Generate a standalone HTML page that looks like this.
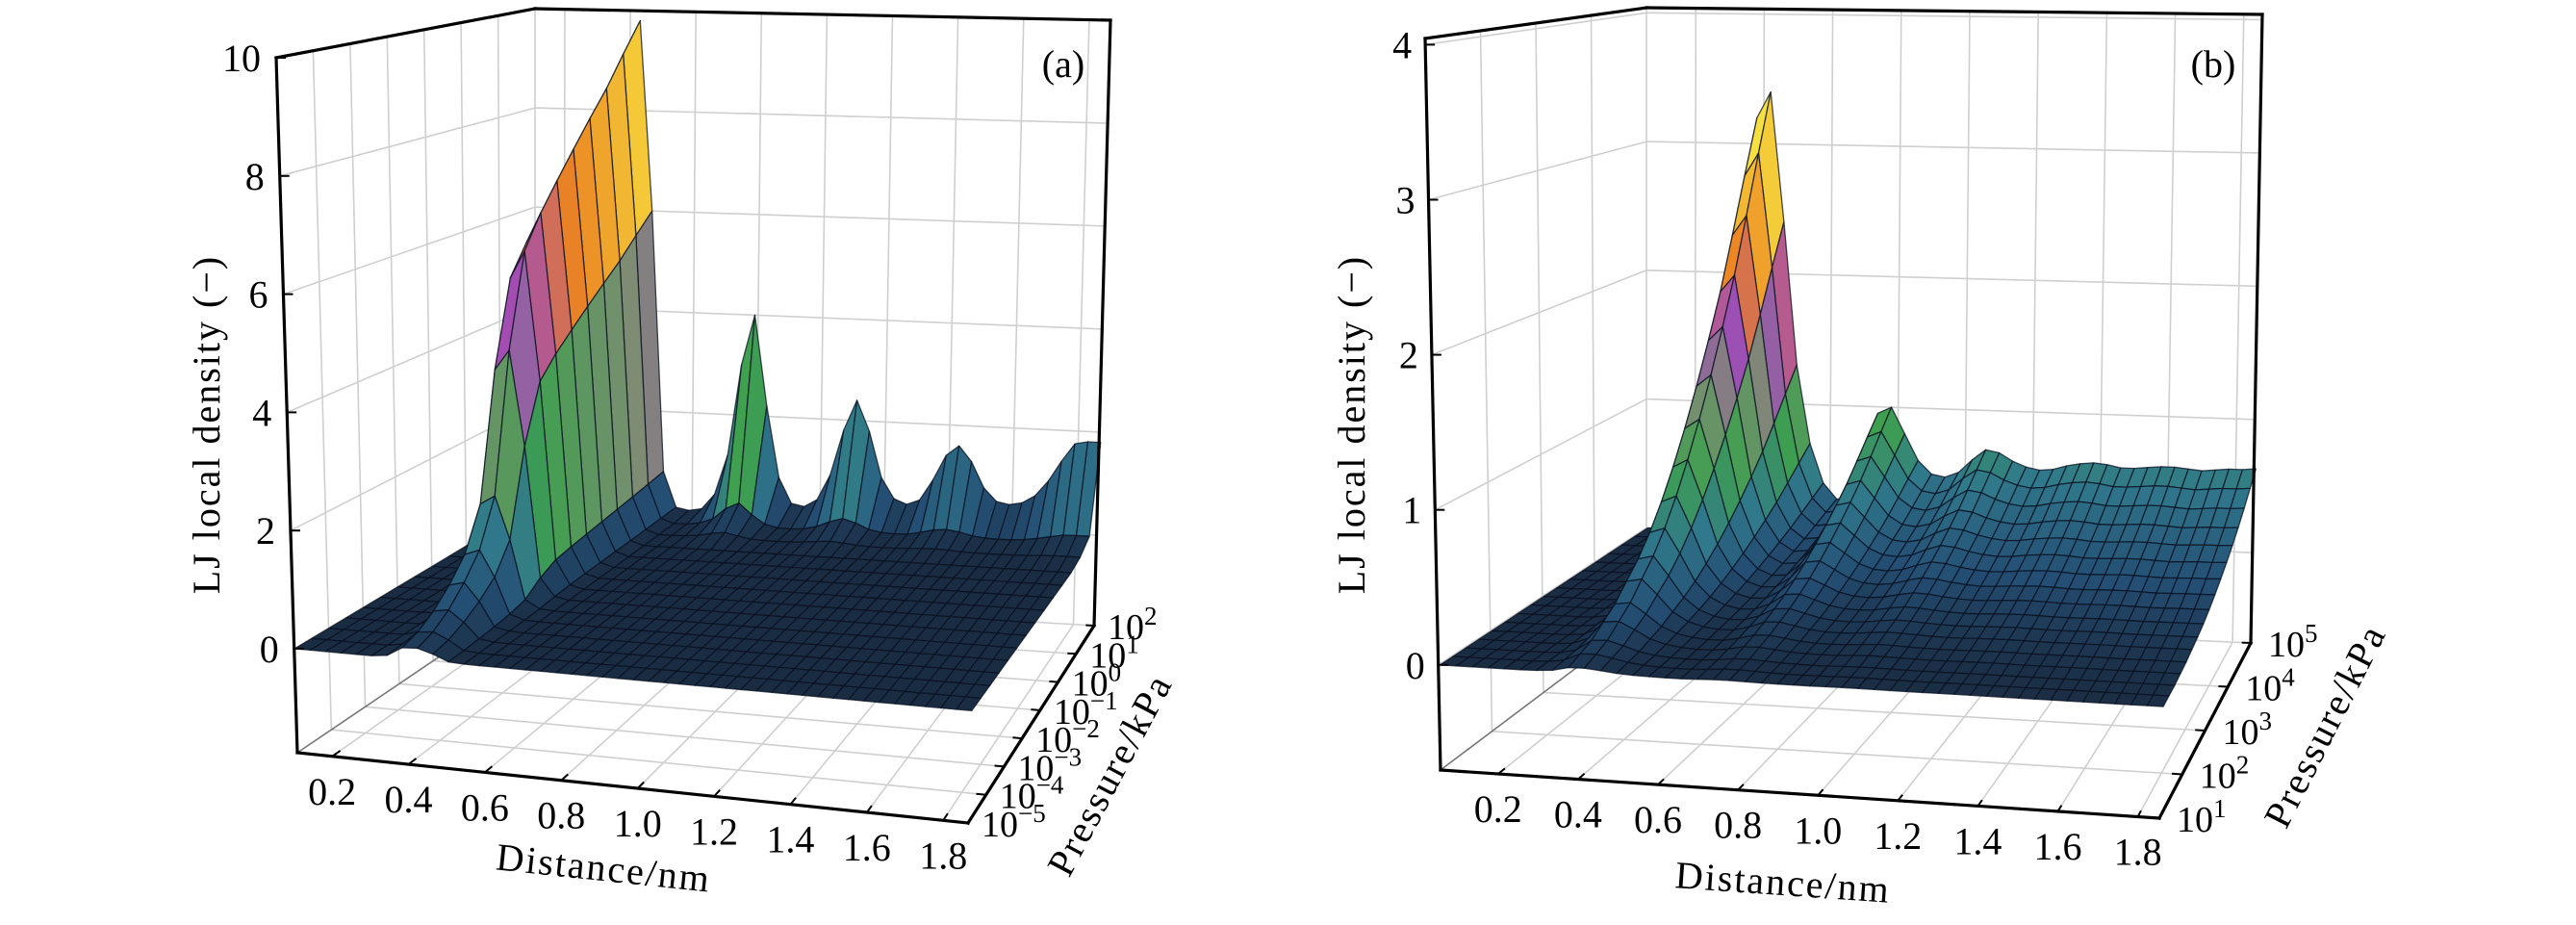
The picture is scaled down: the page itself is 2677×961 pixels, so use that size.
<!DOCTYPE html>
<html><head><meta charset="utf-8">
<style>
html,body{margin:0;padding:0;background:#fff;}
svg{display:block;}
text{font-family:"Liberation Serif","DejaVu Serif",serif;}
</style></head>
<body>
<svg id="chart" width="2677" height="961" viewBox="0 0 2677 961" xmlns="http://www.w3.org/2000/svg">
<rect x="0" y="0" width="2677" height="961" fill="#fff"/>
<g id="panelA"></g>
<g id="panelB"></g>
</svg>
<script>
// ---------- Panel (a) data ----------
const distA = [0.11,0.15,0.19,0.23,0.27,0.31,0.35,0.39,0.43,0.47,0.51,0.55,0.59,0.63,0.67,0.71,0.75,0.79,0.83,0.87,0.91,0.95,0.99,1.03,1.07,1.11,1.15,1.19,1.23,1.27,1.31,1.35,1.39,1.43,1.47,1.51,1.55,1.59,1.63,1.67,1.71,1.75,1.79,1.83,1.87];
const firstShellA = [0,0,0,0,0,0.1,1.5,9.0,9.8,6.0,0.8,0.1,0,0,0,0,0,0,0,0,0,0,0,0,0,0,0,0,0,0,0,0,0,0,0,0,0,0,0,0,0,0,0,0,0];
const outerShellsA = [0,0,0,0,0,0,0,0,0,0,0,0,0.05,0.1,0.4,1.2,3.0,4.0,2.2,0.8,0.3,0.25,0.4,0.9,1.8,2.4,1.8,0.9,0.5,0.4,0.5,0.9,1.4,1.6,1.3,0.8,0.55,0.5,0.55,0.7,1.0,1.4,1.75,1.8,1.8];
const logPA = [-5,-4.5,-4,-3.5,-3,-2.5,-2,-1.5,-1,-0.5,0,0.5,1,1.5,2];
const firstScaleA = [0.02,0.03,0.05,0.08,0.12,0.2,0.45,0.62,0.68,0.73,0.78,0.83,0.88,0.94,1.0];
const outerScaleA = [0,0,0,0,0,0,0,0,0,0,0,0,0.03,0.12,1.0];
const zTicksA = [0,2,4,6,8,10];
const xTicksA = [0.2,0.4,0.6,0.8,1.0,1.2,1.4,1.6,1.8];
const xTickLabelsA = ["0.2","0.4","0.6","0.8","1.0","1.2","1.4","1.6","1.8"];
const pTicksA = [-5,-4,-3,-2,-1,0,1,2];
const pTickLabelsA = ["\u22125","\u22124","\u22123","\u22122","\u22121","0","1","2"];

// ---------- Panel (b) data ----------
const distB = [0.06,0.10,0.14,0.18,0.22,0.26,0.30,0.34,0.38,0.42,0.46,0.50,0.54,0.58,0.62,0.66,0.70,0.74,0.78,0.82,0.86,0.90,0.94,0.98,1.02,1.06,1.10,1.14,1.18,1.22,1.26,1.30,1.34,1.38,1.42,1.46,1.50,1.54,1.58,1.62,1.66,1.70,1.74,1.78,1.82,1.86];
const profileB = [0,0,0,0,0,0.02,0.15,0.9,3.2,3.4,2.4,1.3,0.7,0.4,0.28,0.3,0.55,0.95,1.0,0.8,0.6,0.5,0.48,0.52,0.62,0.7,0.68,0.62,0.58,0.56,0.57,0.6,0.62,0.63,0.62,0.6,0.6,0.61,0.62,0.62,0.61,0.6,0.61,0.62,0.62,0.63];
const logPB = [1,1.25,1.5,1.75,2,2.25,2.5,2.75,3,3.25,3.5,3.75,4,4.25,4.5,4.75,5];
const scaleB = [0.01,0.02,0.03,0.05,0.07,0.1,0.13,0.17,0.22,0.28,0.35,0.43,0.52,0.62,0.74,0.87,1.0];
const zTicksB = [0,1,2,3,4];
const xTicksB = [0.2,0.4,0.6,0.8,1.0,1.2,1.4,1.6,1.8];
const xTickLabelsB = ["0.2","0.4","0.6","0.8","1.0","1.2","1.4","1.6","1.8"];
const pTicksB = [1,2,3,4,5];
const pTickLabelsB = ["1","2","3","4","5"];

const NS = "http://www.w3.org/2000/svg";
const FONT = '"Liberation Serif", "DejaVu Serif", serif';
function mk(tag, attrs, parent){
  const e = document.createElementNS(NS, tag);
  for (const k in attrs) e.setAttribute(k, attrs[k]);
  parent.appendChild(e);
  return e;
}

const stops = [
  [0.00,[26,44,66]],[0.06,[36,78,115]],[0.16,[48,120,140]],[0.28,[62,160,78]],
  [0.42,[125,140,115]],[0.55,[160,75,185]],[0.68,[235,130,35]],[0.82,[242,185,50]],[1.00,[248,240,70]]
];
function cmap(t){
  t = Math.max(0, Math.min(1, t));
  for (let k=1;k<stops.length;k++){
    if (t <= stops[k][0]){
      const a = stops[k-1], b = stops[k];
      const f = (t-a[0])/(b[0]-a[0]);
      const c = a[1].map((v,i)=>Math.round(v+(b[1][i]-v)*f));
      return "rgb("+c.join(",")+")";
    }
  }
  return "rgb(248,240,70)";
}

function drawPanel(g, cfg, dist, logP, zfun, zTicks, xTicks, xTickLabels, pTicks, pTickLabels){
  const C = cfg.corners;
  function bil(a,b,c,d,u,v){
    return [a[0]*(1-u)*(1-v)+b[0]*u*(1-v)+c[0]*u*v+d[0]*(1-u)*v,
            a[1]*(1-u)*(1-v)+b[1]*u*(1-v)+c[1]*u*v+d[1]*(1-u)*v];
  }
  function map(u,v,w){
    const lo = bil(C.FLb,C.FRb,C.BRb,C.BLb,u,v);
    const hi = bil(C.FLt,C.FRt,C.BRt,C.BLt,u,v);
    return [lo[0]*(1-w)+hi[0]*w, lo[1]*(1-w)+hi[1]*w];
  }
  const uOf = x => (x-cfg.x0)/(cfg.x1-cfg.x0);
  const vOf = p => (p-cfg.p0)/(cfg.p1-cfg.p0);
  const wOf = z => (z-cfg.zmin)/(cfg.zmax-cfg.zmin);
  const pt = q => q[0].toFixed(1)+","+q[1].toFixed(1);
  const line = (a,b,attrs,name) => {
    const el = mk("line",Object.assign({x1:a[0].toFixed(1),y1:a[1].toFixed(1),x2:b[0].toFixed(1),y2:b[1].toFixed(1)},attrs),g);
    
    
    return el;
  };
  const grid = {stroke:"#cfcfcf","stroke-width":"1.6"};
  xTicks.forEach(x=>{ line(map(uOf(x),0,0),map(uOf(x),1,0),grid,"floor-gridline-x"); });
  pTicks.forEach(p=>{ line(map(0,vOf(p),0),map(1,vOf(p),0),grid,"floor-gridline-pressure"); });
  xTicks.forEach(x=>{ line(map(uOf(x),1,0),map(uOf(x),1,1),grid,"back-wall-gridline-x"); });
  zTicks.forEach(z=>{ line(map(0,1,wOf(z)),map(1,1,wOf(z)),grid,"back-wall-gridline-z"); });
  pTicks.forEach(p=>{ line(map(0,vOf(p),0),map(0,vOf(p),1),grid,"left-wall-gridline-pressure"); });
  zTicks.forEach(z=>{ line(map(0,0,wOf(z)),map(0,1,wOf(z)),grid,"left-wall-gridline-z"); });
  line(map(0,0,0),map(0,1,0),{stroke:"#777","stroke-width":"1.6"},"floor-left-edge");

  const Z = logP.map((p,j)=>dist.map((x,i)=>zfun(i,j)));
  let zmaxData = 0; Z.forEach(r=>r.forEach(v=>{ if(v>zmaxData) zmaxData=v; }));
  const sg = mk("g",{},g);
  
  
  for (let j=logP.length-2;j>=0;j--){
    for (let i=0;i<dist.length-1;i++){
      const P = (ii,jj)=>map(uOf(dist[ii]),vOf(logP[jj]),wOf(Z[jj][ii]));
      const mx = Math.max(Z[j][i],Z[j][i+1],Z[j+1][i],Z[j+1][i+1]);
      const avg = (Z[j][i]+Z[j][i+1]+Z[j+1][i]+Z[j+1][i+1])/4;
      const poly = mk("polygon",{points:[P(i,j),P(i+1,j),P(i+1,j+1),P(i,j+1)].map(pt).join(" "),
        fill:cmap((0.6*avg+0.4*mx)/zmaxData),stroke:"#081020","stroke-width":"1.3","stroke-opacity":"0.75","stroke-linejoin":"round"},sg);
      
      
    }
  }

  const ax = {stroke:"#000","stroke-width":"3.2","stroke-linecap":"square"};
  line(map(0,0,0),map(0,0,1),ax,"z-axis-line");
  line(map(0,0,1),map(0,1,1),ax,"left-wall-top-edge");
  line(map(0,1,1),map(1,1,1),ax,"back-wall-top-edge");
  line(map(1,1,1),map(1,1,0),ax,"back-wall-right-edge");
  line(map(0,0,0),map(1,0,0),ax,"x-axis-line");
  line(map(1,0,0),map(1,1,0),ax,"pressure-axis-line");

  const tk = {stroke:"#000","stroke-width":"2"};
  zTicks.forEach((z,k)=>{
    const a = map(0,0,wOf(z));
    line(a,[a[0]+10,a[1]],tk,"z-tick");
    const t = mk("text",{x:(a[0]-cfg.zLabelDx).toFixed(1),y:(a[1]+14).toFixed(1),"text-anchor":"end","font-size":"40",fill:"#000","font-family":FONT},g);
    t.textContent = String(z);
    
    
  });
  xTicks.forEach((x,k)=>{
    const a = map(uOf(x),0,0);
    const b = map(uOf(x),0.035,0);
    line(a,b,tk,"x-tick");
    const t = mk("text",{x:a[0].toFixed(1),y:(a[1]+50).toFixed(1),"text-anchor":"middle","font-size":"40",fill:"#000","font-family":FONT},g);
    t.textContent = xTickLabels[k];
    
    
  });
  pTicks.forEach((p,k)=>{
    const a = map(1,vOf(p),0);
    const b = map(0.985,vOf(p),0);
    line(a,b,tk,"pressure-tick");
    const t = mk("text",{x:(a[0]+cfg.pLabelDx).toFixed(1),y:(a[1]+cfg.pLabelDy).toFixed(1),"text-anchor":"start","font-size":"38",fill:"#000","font-family":FONT},g);
    
    
    t.appendChild(document.createTextNode("10"));
    const s = mk("tspan",{dy:"-15","font-size":"27"},t);
    s.textContent = pTickLabels[k];
    
    
  });
  const yt = mk("text",{x:cfg.yTitle[0],y:cfg.yTitle[1],"text-anchor":"middle","font-size":"40",fill:"#000","letter-spacing":"2","font-family":FONT,transform:"rotate(-90 "+cfg.yTitle[0]+" "+cfg.yTitle[1]+")"},g);
  yt.textContent = "LJ local density (\u2212)";
  
  
  const xt = mk("text",{x:cfg.xTitle[0],y:cfg.xTitle[1],"text-anchor":"middle","font-size":"40",fill:"#000","letter-spacing":"2","font-family":FONT,transform:"rotate("+cfg.xTitle[2]+" "+cfg.xTitle[0]+" "+cfg.xTitle[1]+")"},g);
  xt.textContent = "Distance/nm";
  
  
  const pt2 = mk("text",{x:cfg.pTitle[0],y:cfg.pTitle[1],"text-anchor":"middle","font-size":"40",fill:"#000","letter-spacing":"2","font-family":FONT,transform:"rotate("+cfg.pTitle[2]+" "+cfg.pTitle[0]+" "+cfg.pTitle[1]+")"},g);
  pt2.textContent = "Pressure/kPa";
  
  
  const pl = mk("text",{x:cfg.tag[0],y:cfg.tag[1],"text-anchor":"middle","font-size":"40",fill:"#000","font-family":FONT},g);
  pl.textContent = cfg.tagText;
  
  
}

const cfgA = {
  corners:{FLb:[309,782],FRb:[1006,855],BRb:[1137,650],BLb:[556,615],FLt:[287,60],FRt:[1018,75],BRt:[1154,21],BLt:[556,9]},
  x0:0.109,x1:1.865,p0:-5,p1:2,zmin:-1.76,zmax:10,
  zLabelDx:16,pLabelDx:14,pLabelDy:14,
  yTitle:[228,441],xTitle:[626,915,6],pTitle:[1165,811,-62],tag:[1105,80],tagText:"(a)"
};
const cfgB = {
  corners:{FLb:[1497,800],FRb:[2244,850],BRb:[2339,668],BLb:[1711,639],FLt:[1481,40],FRt:[2255,50],BRt:[2351,15],BLt:[1711,8]},
  x0:0.056,x1:1.854,p0:1,p1:5,zmin:-0.678,zmax:4.04,
  zLabelDx:14,pLabelDx:18,pLabelDy:14,
  yTitle:[1418,441],xTitle:[1852,930,4],pTitle:[2428,760,-63],tag:[2300,80],tagText:"(b)"
};

drawPanel(document.getElementById("panelA"), cfgA, distA, logPA,
  (i,j)=>firstShellA[i]*firstScaleA[j]+outerShellsA[i]*outerScaleA[j],
  zTicksA, xTicksA, xTickLabelsA, pTicksA, pTickLabelsA);
drawPanel(document.getElementById("panelB"), cfgB, distB, logPB,
  (i,j)=>profileB[i]*scaleB[j],
  zTicksB, xTicksB, xTickLabelsB, pTicksB, pTickLabelsB);
</script>
</body></html>
